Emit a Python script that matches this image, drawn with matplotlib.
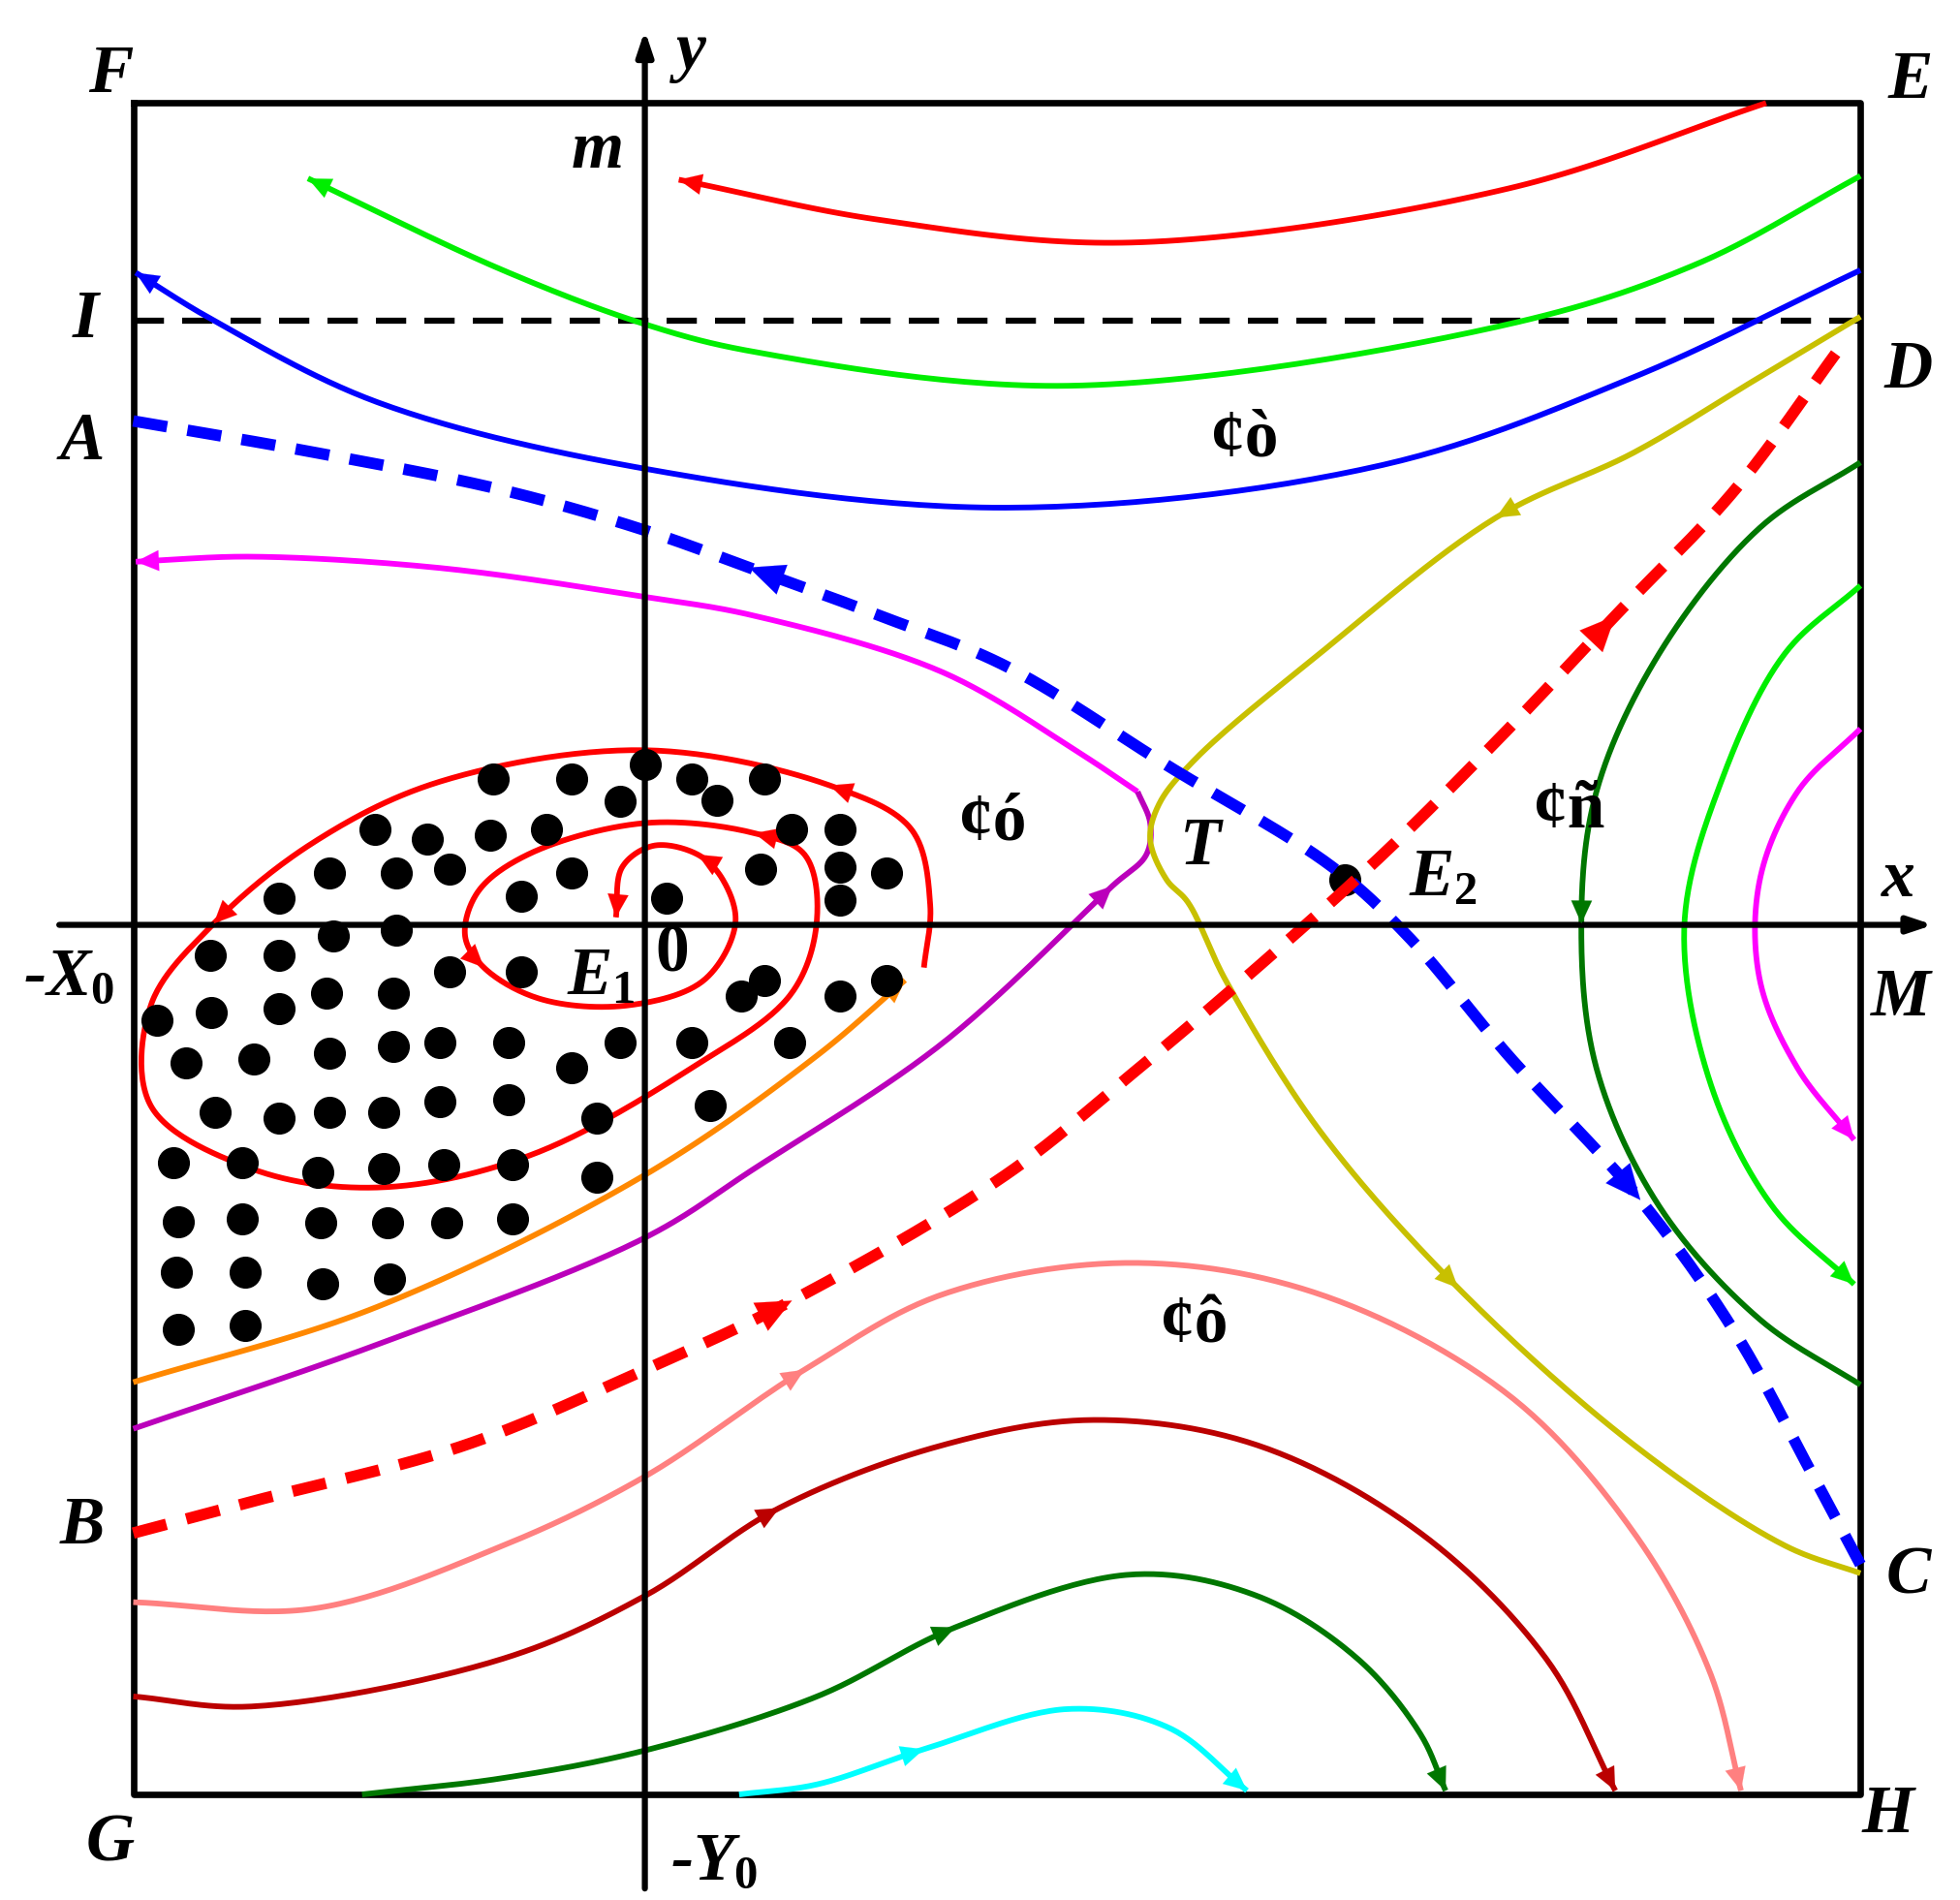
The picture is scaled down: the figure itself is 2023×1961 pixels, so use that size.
import matplotlib
matplotlib.use('Agg')
import matplotlib.pyplot as plt
import numpy as np

plt.rcParams['mathtext.fontset'] = 'custom'
plt.rcParams['mathtext.it'] = 'Liberation Serif:bold:italic'
plt.rcParams['mathtext.rm'] = 'Liberation Serif:bold'

# curve control points in picture units (x right, y down)
red_top = [(1405, 82), (1200, 150), (900, 193), (700, 175), (540, 143)]
green_top = [(1480, 140), (1350, 210), (1200, 258), (850, 307), (600, 280), (513, 258), (400, 215), (245, 142)]
blue_top = [(1480, 215), (1300, 300), (1100, 370), (800, 404), (513, 373), (300, 320), (170, 255), (108, 217)]
blue_dash = [(106, 335), (250, 360), (400, 390), (513, 422), (605, 455), (700, 490), (800, 530), (930, 610),
             (1060, 690), (1120, 745), (1200, 840), (1305, 955), (1380, 1060), (1440, 1170), (1480, 1245)]
magenta_left = [(905, 630), (860, 600), (750, 535), (600, 490), (513, 475), (350, 452), (200, 443), (108, 447)]
purple = [(106, 1137), (300, 1070), (513, 985), (600, 930), (750, 830), (885, 705), (912, 680), (915, 655), (905, 630)]
olive = [(1480, 252), (1400, 300), (1300, 360), (1190, 412), (1050, 520), (950, 605), (922, 640), (915, 668),
         (928, 700), (945, 718), (975, 780), (1050, 900), (1160, 1025), (1300, 1150), (1420, 1230), (1480, 1252)]
red_dash = [(106, 1220), (200, 1195), (370, 1150), (513, 1090), (630, 1035), (800, 935), (900, 855), (1000, 770),
            (1100, 680), (1200, 580), (1285, 490), (1380, 390), (1465, 275)]
orange = [(106, 1100), (300, 1040), (513, 935), (650, 840), (720, 780)]
spiral = [(735, 770), (740, 720), (725, 660), (660, 625), (513, 597), (350, 622), (250, 670), (170, 735), (120, 800),
          (120, 880), (200, 930), (300, 945), (420, 920), (550, 850), (630, 790), (650, 730), (640, 680), (600, 663),
          (513, 655), (420, 680), (380, 710), (370, 745), (385, 770), (430, 795), (500, 800), (560, 780), (585, 735),
          (575, 700), (555, 680), (520, 673), (495, 690), (490, 730)]
dgreen_right = [(1480, 368), (1400, 420), (1320, 520), (1270, 630), (1258, 735), (1270, 850), (1320, 960), (1400, 1050), (1480, 1102)]
lgreen_right = [(1480, 466), (1420, 520), (1370, 620), (1340, 735), (1360, 860), (1410, 960), (1475, 1022)]
magenta_right = [(1480, 580), (1430, 630), (1400, 700), (1400, 780), (1430, 850), (1475, 907)]
pink = [(106, 1275), (250, 1280), (400, 1230), (513, 1175), (640, 1090), (750, 1030), (900, 1005), (1050, 1030),
        (1200, 1110), (1300, 1220), (1360, 1330), (1385, 1425)]
dred = [(106, 1350), (200, 1358), (400, 1320), (513, 1270), (620, 1200), (750, 1150), (870, 1130), (1000, 1150),
        (1130, 1220), (1230, 1320), (1285, 1425)]
dgreen_bot = [(288, 1428), (400, 1415), (513, 1393), (650, 1350), (760, 1295), (900, 1253), (1000, 1270),
              (1080, 1320), (1130, 1380), (1150, 1425)]
cyan = [(588, 1428), (650, 1420), (735, 1392), (850, 1360), (930, 1375), (992, 1425)]

dots_x = [392, 455, 513, 550, 608, 570, 493,
          298, 340, 390, 435, 630, 668,
          262, 315, 358, 455, 605, 668, 705,
          222, 415, 530, 668, 265, 315,
          167, 222, 358, 415, 608, 705,
          125, 168, 222, 260, 313, 590, 668,
          350, 405, 493, 550, 628, 148, 202, 262, 313, 455,
          350, 405, 565, 171, 222, 262, 305, 475,
          138, 193, 253, 305, 353, 408, 475,
          142, 193, 255, 308, 355, 408,
          140, 195, 257, 310, 142, 195]
dots_y = [620, 620, 608, 620, 620, 637, 638,
          660, 668, 665, 660, 660, 660,
          695, 695, 692, 695, 692, 690, 695,
          715, 713, 715, 716, 745, 740,
          760, 760, 773, 773, 780, 780,
          812, 806, 803, 790, 790, 793, 793,
          830, 830, 830, 830, 830, 846, 843, 838, 833, 850,
          877, 875, 880, 885, 890, 885, 885, 890,
          925, 925, 933, 930, 927, 927, 937,
          972, 970, 973, 973, 973, 970,
          1012, 1012, 1022, 1018, 1058, 1055]


def smooth(pts, n=30):
    # centripetal catmull-rom
    p = np.array(pts, float)
    p = np.vstack([2 * p[0] - p[1], p, 2 * p[-1] - p[-2]])
    out = []
    for i in range(1, len(p) - 2):
        P0, P1, P2, P3 = p[i - 1], p[i], p[i + 1], p[i + 2]
        t0 = 0.0
        t1 = t0 + np.linalg.norm(P1 - P0) ** 0.5
        t2 = t1 + np.linalg.norm(P2 - P1) ** 0.5
        t3 = t2 + np.linalg.norm(P3 - P2) ** 0.5
        t = np.linspace(t1, t2, n, endpoint=False)[:, None]
        A1 = (t1 - t) / (t1 - t0) * P0 + (t - t0) / (t1 - t0) * P1
        A2 = (t2 - t) / (t2 - t1) * P1 + (t - t1) / (t2 - t1) * P2
        A3 = (t3 - t) / (t3 - t2) * P2 + (t - t2) / (t3 - t2) * P3
        B1 = (t2 - t) / (t2 - t0) * A1 + (t - t0) / (t2 - t0) * A2
        B2 = (t3 - t) / (t3 - t1) * A2 + (t - t1) / (t3 - t1) * A3
        out.append((t2 - t) / (t2 - t1) * B1 + (t - t1) / (t2 - t1) * B2)
    out.append(p[-2][None])
    return np.vstack(out)


def curve(ax, pts, color, arrows=(), lw=4.2, ls='-', head=1.7, n=30, back=()):
    c = smooth(pts, n)
    ax.plot(c[:, 0], c[:, 1], color=color, lw=lw, ls=ls, solid_capstyle='butt', dash_capstyle='butt')
    for k in list(arrows) + [-k for k in back]:
        i = min(abs(k) * n, len(c) - 1)
        tip, tail = (c[i], c[i - 3]) if k > 0 else (c[i - 3], c[i])
        ax.annotate('', xy=tip, xytext=tail,
                    arrowprops=dict(arrowstyle='-|>,head_length=%.2f,head_width=%.2f' % (head, head * 0.45),
                                    color=color, lw=0.1, shrinkA=0, shrinkB=0))


fig = plt.figure(figsize=(20.24, 19.61), dpi=100)
ax = fig.add_axes([0, 0, 1, 1])
ax.set_xlim(0, 1560)
ax.set_ylim(1512, 0)
ax.axis('off')

# frame and axes
ax.plot([106, 1480, 1480, 106, 106], [82, 82, 1428, 1428, 82], color='black', lw=4.8)
ax.annotate('', xy=(513, 22), xytext=(513, 1505),
            arrowprops=dict(arrowstyle='-|>,head_length=1.5,head_width=0.5', color='black', lw=4.5))
ax.annotate('', xy=(1540, 736), xytext=(45, 736),
            arrowprops=dict(arrowstyle='-|>,head_length=1.5,head_width=0.5', color='black', lw=4.5))
ax.plot([106, 1480], [255, 255], color='black', lw=4.5, ls=(0, (5, 3)))

curve(ax, red_top, 'red', [4])
curve(ax, green_top, '#00ee00', [7])
curve(ax, blue_top, 'blue', [7])
curve(ax, magenta_left, 'magenta', [7])
curve(ax, purple, '#bb00bb', [5])
curve(ax, olive, '#c8c000', [3, 12])
curve(ax, orange, '#ff8800', [4])
curve(ax, spiral, 'red', [3, 7, 17, 22, 28, 31])
curve(ax, dgreen_right, '#007700', [4])
curve(ax, lgreen_right, '#00ee00', [6])
curve(ax, magenta_right, 'magenta', [5])
curve(ax, pink, '#ff8080', [4, 11])
curve(ax, dred, '#bb0000', [4, 10])
curve(ax, dgreen_bot, '#007700', [4, 9])
curve(ax, cyan, 'cyan', [2, 5])
curve(ax, blue_dash, 'blue', [11], lw=8.5, ls=(0, (3, 1.8)), head=2.6, back=[4])
curve(ax, red_dash, 'red', [4, 10], lw=8.5, ls=(0, (3, 1.8)), head=2.6)

ax.scatter(dots_x, dots_y, s=520, color='black', zorder=5)
ax.scatter([1070], [700], s=520, color='black', zorder=1)

fs = 50
lab = dict(fontsize=fs, fontweight='bold', fontstyle='italic', family='Liberation Serif', ha='center', va='center')
for s, x, y in [('F', 88, 60), ('E', 1520, 65), ('I', 68, 255), ('A', 65, 352), ('D', 1518, 295),
                ('B', 65, 1215), ('C', 1518, 1255), ('G', 88, 1468), ('H', 1502, 1445), ('M', 1512, 795),
                ('m', 475, 120), ('y', 550, 42), ('x', 1510, 700), ('T', 955, 675)]:
    ax.text(x, y, s, **lab)
ax.text(55, 778, r'-$\mathit{X}_0$', **lab)
ax.text(568, 1482, r'-$\mathit{Y}_0$', **lab)
ax.text(1148, 700, r'$\mathit{E}_2$', **lab)
ax.text(478, 778, r'$\mathit{E}_1$', **lab)
ax.text(535, 760, '0', fontsize=fs, fontweight='bold', family='Liberation Serif', ha='center', va='center')
for s, x, y in [('¢ò', 990, 350), ('¢ó', 790, 655), ('¢ñ', 1248, 645), ('¢ô', 950, 1055)]:
    ax.text(x, y, s, fontsize=50, fontweight='bold', family='Liberation Serif', ha='center', va='center')

fig.savefig('out.png', dpi=100)
